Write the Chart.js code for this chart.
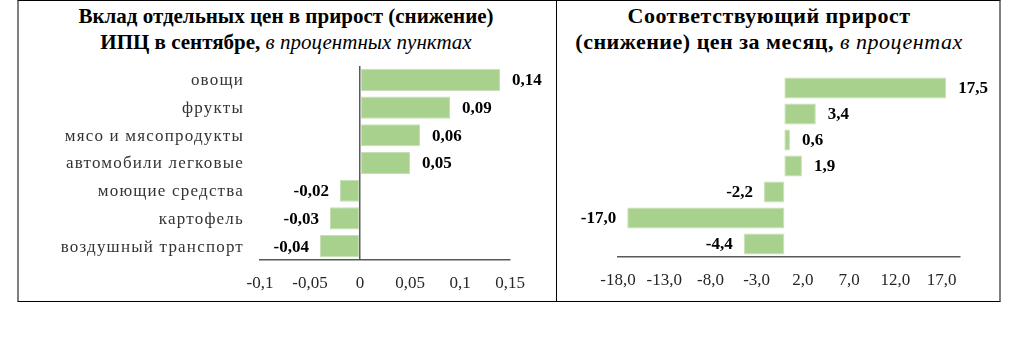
<!DOCTYPE html>
<html>
<head>
<meta charset="utf-8">
<script src="https://cdn.jsdelivr.net/npm/chart.js@4.4.1/dist/chart.umd.min.js"></script>
<style>
  body { margin: 0; background: #fff; width: 1024px; height: 347px; position: relative; overflow: hidden; }
  .frame { position: absolute; left: 17px; top: 0; width: 980px; height: 300px;
           border-top: 1px solid #000; border-bottom: 1px solid #000;
           border-left: 2px solid #808080; border-right: 2px solid #808080; }
  .divider { position: absolute; left: 556px; top: 0; width: 1px; height: 302px; background: #000; }
  .title { position: absolute; top: 3px; text-align: center; font-family: "Liberation Serif", serif;
           font-weight: bold; font-size: 21px; line-height: 26px; color: #000; white-space: nowrap; }
  .title i { font-weight: normal; }
  canvas { position: absolute; }
</style>
</head>
<body>
<div class="frame"></div>
<div class="divider"></div>
<div class="title" style="left:18px; width:536px;">Вклад отдельных цен в прирост (снижение)<br>ИПЦ в сентябре, <i>в процентных пунктах</i></div>
<div class="title" style="left:562px; width:414px; font-size:22px; letter-spacing:0.5px;">Соответствующий прирост<br>(снижение) цен за месяц, <i>в процентах</i></div>
<canvas id="leftChart" width="538" height="244" style="left:18px; top:56px;"></canvas>
<canvas id="rightChart" width="442" height="244" style="left:557px; top:56px;"></canvas>
<script>
const categories = ['овощи', 'фрукты', 'мясо и мясопродукты', 'автомобили легковые', 'моющие средства', 'картофель', 'воздушный транспорт']
const contribValues = [0.14, 0.09, 0.06, 0.05, -0.02, -0.03, -0.04]
const priceChangeValues = [17.5, 3.4, 0.6, 1.9, -2.2, -17.0, -4.4]
const contribTicks = [-0.1, -0.05, 0, 0.05, 0.1, 0.15]
const priceTicks = [-18, -13, -8, -3, 2, 7, 12, 17]

const barColor = '#a9d18e'
const serif = '"Liberation Serif", "Times New Roman", serif'

// подписи значений рядом с концом столбца
const valueLabels = {
    id: 'valueLabels',
    afterDatasetsDraw(chart, args, opts) {
        const ctx = chart.ctx
        const meta = chart.getDatasetMeta(0)
        const data = chart.data.datasets[0].data
        ctx.save()
        ctx.font = 'bold 17px ' + serif
        ctx.fillStyle = '#000'
        ctx.textBaseline = 'middle'
        meta.data.forEach((bar, i) => {
            const v = data[i]
            const text = v.toFixed(opts.decimals).replace('.', ',')
            if (v >= 0) {
                ctx.textAlign = 'left'
                ctx.fillText(text, bar.x + 12, bar.y + 1)
            } else {
                ctx.textAlign = 'right'
                ctx.fillText(text, bar.x - 11, bar.y + 1)
            }
        })
        ctx.restore()
    }
}

// названия категорий слева (с разрядкой, как в оригинале)
const categoryLabels = {
    id: 'categoryLabels',
    afterDraw(chart, args, opts) {
        if (!opts.show) return
        const ctx = chart.ctx
        const yScale = chart.scales.y
        ctx.save()
        ctx.font = '17px ' + serif
        ctx.letterSpacing = '1.2px'
        ctx.fillStyle = '#333'
        ctx.textAlign = 'right'
        ctx.textBaseline = 'middle'
        chart.data.labels.forEach((label, i) => {
            ctx.fillText(label, chart.chartArea.left - 16, yScale.getPixelForValue(i) + 1)
        })
        ctx.restore()
    }
}

function makeChart(id, values, ticks, opts) {
    return new Chart(document.getElementById(id), {
        type: 'bar',
        data: {
            labels: categories,
            datasets: [{
                data: values,
                backgroundColor: barColor,
                borderColor: '#c5e0b4',
                borderWidth: 1,
                borderSkipped: false,
                categoryPercentage: 0.8,
                barPercentage: 1
            }]
        },
        options: {
            indexAxis: 'y',
            responsive: false,
            animation: false,
            events: [],
            layout: { padding: opts.padding },
            plugins: {
                legend: { display: false },
                tooltip: { enabled: false },
                valueLabels: { decimals: opts.decimals },
                categoryLabels: { show: opts.showCategories }
            },
            scales: {
                x: {
                    min: ticks[0],
                    max: opts.max,
                    afterBuildTicks: scale => { scale.ticks = ticks.map(v => ({ value: v })) },
                    afterFit: scale => { scale.height = opts.xHeight },
                    grid: {
                        drawTicks: false,
                        color: c => c.tick && c.tick.value === 0 ? '#595959' : 'rgba(0,0,0,0)',
                        lineWidth: 1.5
                    },
                    border: { display: true, color: '#595959', width: 1.5 },
                    ticks: {
                        padding: 13,
                        color: '#262626',
                        font: { family: serif, size: 17 },
                        callback: v => opts.tickFormat(v)
                    }
                },
                y: { display: false }
            }
        },
        plugins: [valueLabels, categoryLabels]
    })
}

makeChart('leftChart', contribValues, contribTicks, {
    max: 0.15,
    padding: { left: 242, right: 46, top: 10, bottom: 0 },
    xHeight: 40,
    showCategories: true,
    decimals: 2,
    tickFormat: v => String(v).replace('.', ',')
})

makeChart('rightChart', priceChangeValues, priceTicks, {
    max: 19,
    padding: { left: 61, right: 39, top: 19, bottom: 0 },
    xHeight: 43,
    showCategories: false,
    decimals: 1,
    tickFormat: v => v.toFixed(1).replace('.', ',')
})
</script>
</body>
</html>
